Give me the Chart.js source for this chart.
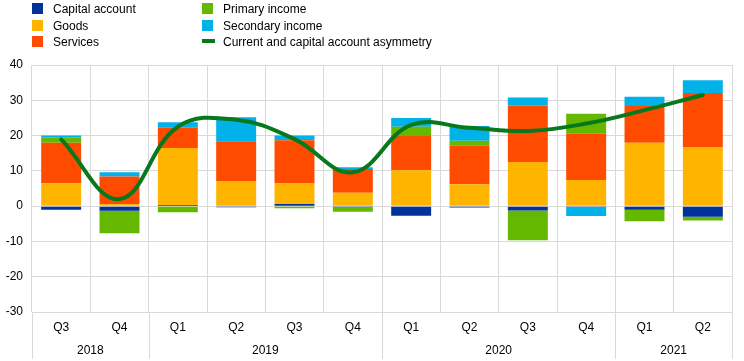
<!DOCTYPE html>
<html><head><meta charset="utf-8">
<script src="https://cdn.jsdelivr.net/npm/chart.js@4/dist/chart.umd.min.js"></script>
<style>
html,body{margin:0;padding:0;background:#fff;}
#wrap{position:relative;width:744px;height:361px;}
canvas{position:absolute;left:0;top:0;}
.lg{position:absolute;font:12px "Liberation Sans",Arial,sans-serif;color:#000;line-height:14px;white-space:nowrap;}
.sw{position:absolute;width:11px;height:11px;}
</style></head>
<body><div id="wrap"><canvas id="c" width="744" height="361"></canvas><div id="legend"></div></div>
<script>
const quarters = ['Q3','Q4','Q1','Q2','Q3','Q4','Q1','Q2','Q3','Q4','Q1','Q2'];
const years = ['2018','2018','2019','2019','2019','2019','2020','2020','2020','2020','2021','2021'];
const capitalAccount = [-1.0, -1.3, 0.3, -0.3, 0.6, -0.3, -2.7, -0.4, -1.2, -0.3, -1.0, -3.0];
const goods = [6.5, 0.6, 16.2, 7.1, 5.8, 3.8, 10.2, 6.2, 12.5, 7.4, 18.0, 16.6];
const services = [11.5, 7.8, 5.7, 11.3, 12.3, 6.7, 9.7, 10.9, 16.0, 13.1, 10.4, 15.5];
const primaryIncome = [1.4, -6.4, -1.7, 0.0, -0.6, -1.3, 2.6, 1.4, -8.5, 5.7, -3.3, -1.1];
const secondaryIncome = [0.6, 1.2, 1.6, 6.8, 1.3, 0.5, 2.5, 4.2, 2.3, -2.5, 2.6, 3.6];
const asymmetry = [18.9, 2.0, 22.5, 24.5, 19.0, 9.6, 23.0, 22.2, 21.3, 23.4, 27.2, 31.5];
const yTicks = [40, 30, 20, 10, 0, -10, -20, -30];

const C = {cap:'#003299', goods:'#FFB400', serv:'#FF4B00', prim:'#65B800', sec:'#00B1EA', line:'#08781C'};
const FONT = '"Liberation Sans", Arial, sans-serif';

// HTML legend
const legendItems = [
  {t:'Capital account', c:C.cap, x:32, y:2},
  {t:'Goods', c:C.goods, x:32, y:19},
  {t:'Services', c:C.serv, x:32, y:35},
  {t:'Primary income', c:C.prim, x:202, y:2},
  {t:'Secondary income', c:C.sec, x:202, y:19},
  {t:'Current and capital account asymmetry', c:C.line, x:202, y:35, line:true}
];
const lg = document.getElementById('legend');
legendItems.forEach(it=>{
  const s = document.createElement('div');
  s.className='sw';
  s.style.left=it.x+'px';
  if(it.line){ s.style.top=(it.y+4)+'px'; s.style.height='4px'; s.style.width='13px'; }
  else { s.style.top=(it.y+1)+'px'; }
  s.style.background=it.c;
  lg.appendChild(s);
  const t = document.createElement('div');
  t.className='lg'; t.textContent=it.t;
  t.style.left=(it.x+21)+'px'; t.style.top=it.y+'px';
  lg.appendChild(t);
});

const yearPlugin = {
  id:'years',
  afterDraw(chart){
    const x = chart.scales.x, ctx = chart.ctx, area = chart.chartArea;
    const n = quarters.length;
    const edge = i => i===0 ? x.left : (i===n ? x.right : (x.getPixelForValue(i-1)+x.getPixelForValue(i))/2);
    ctx.save();
    ctx.strokeStyle='#d9d9d9'; ctx.lineWidth=1;
    ctx.fillStyle='#000'; ctx.font='12px '+FONT; ctx.textAlign='center'; ctx.textBaseline='middle';
    let start=0;
    for(let i=1;i<=n;i++){
      if(i===n || years[i]!==years[start]){
        const a=edge(start), b=edge(i);
        ctx.fillText(years[start], (a+b)/2, 351);
        start=i;
      }
    }
    const bounds=[0];
    for(let i=1;i<n;i++) if(years[i]!==years[i-1]) bounds.push(i);
    bounds.push(n);
    bounds.forEach(i=>{
      const px=Math.round(edge(i))+0.5;
      ctx.beginPath(); ctx.moveTo(px, area.bottom); ctx.lineTo(px, 359); ctx.stroke();
    });
    ctx.restore();
  }
};

const barDs = (label, data, color) => ({type:'bar', label, data, backgroundColor:color, borderWidth:0, stack:'s', order:2, barPercentage:0.685, categoryPercentage:1});

new Chart(document.getElementById('c'), {
  data:{
    labels: quarters,
    datasets:[
      {type:'line', label:'Current and capital account asymmetry', data:asymmetry, borderColor:C.line, backgroundColor:C.line, borderWidth:4, pointRadius:0, tension:0.4, stack:'line', order:0, borderCapStyle:'round'},
      barDs('Capital account', capitalAccount, C.cap),
      barDs('Goods', goods, C.goods),
      barDs('Services', services, C.serv),
      barDs('Primary income', primaryIncome, C.prim),
      barDs('Secondary income', secondaryIncome, C.sec)
    ]
  },
  options:{
    responsive:false, animation:false, devicePixelRatio:1,
    layout:{padding:{top:65, right:12, left:0, bottom:0}},
    plugins:{legend:{display:false}, tooltip:{enabled:false}},
    scales:{
      x:{
        stacked:true,
        grid:{color:'#d9d9d9', offset:true, drawTicks:false},
        border:{color:'#d9d9d9'},
        ticks:{color:'#000', font:{family:FONT, size:12}, padding:8, maxRotation:0},
        afterFit(s){ s.height = 49; }
      },
      y:{
        stacked:true, min:-30, max:40,
        afterBuildTicks(s){ s.ticks = yTicks.map(v=>({value:v})); },
        grid:{color:'#d9d9d9', drawTicks:false},
        border:{display:false},
        ticks:{color:'#000', font:{family:FONT, size:12}, padding:9},
        afterFit(s){ s.width = 32; }
      }
    }
  },
  plugins:[yearPlugin]
});
</script></body></html>
